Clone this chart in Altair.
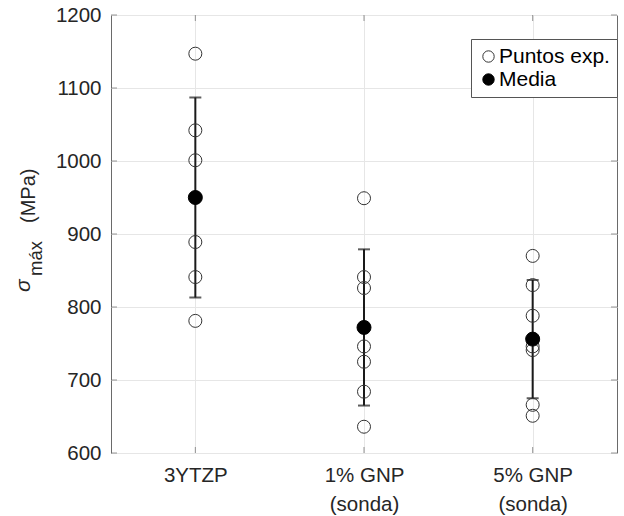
import altair as alt
import pandas as pd

categories = ["3YTZP", "1% GNP|(sonda)", "5% GNP|(sonda)"]
pts_3ytzp = [1147, 1042, 1001, 889, 841, 781]
pts_1gnp = [949, 841, 826, 746, 725, 684, 636]
pts_5gnp = [870, 830, 788, 746, 741, 666, 651]
means = [950, 772, 756]
stds = [137, 107, 81]
y_ticks = [600, 700, 800, 900, 1000, 1100, 1200]
legend_labels = ["Puntos exp.", "Media"]

FONT = "Liberation Sans"
TXT = "#262626"
FS = 20.5
AX = "#6a6a6a"

rows = []
for cat, vals in zip(categories, [pts_3ytzp, pts_1gnp, pts_5gnp]):
    for v in vals:
        rows.append({"cat": cat, "value": v, "tipo": legend_labels[0]})
pts_df = pd.DataFrame(rows)

mean_df = pd.DataFrame({
    "cat": categories,
    "value": means,
    "lo": [m - s for m, s in zip(means, stds)],
    "hi": [m + s for m, s in zip(means, stds)],
    "tipo": [legend_labels[1]] * 3,
})
ytick_df = pd.DataFrame({"value": y_ticks})
xtick_df = pd.DataFrame({"cat": categories})

x_enc = alt.X(
    "cat:N",
    sort=categories,
    scale=alt.Scale(type="point", padding=0.5, domain=categories),
    axis=alt.Axis(
        title=None,
        labelExpr="split(datum.label, '|')",
        labelFont=FONT,
        labelFontSize=FS,
        labelColor=TXT,
        labelPadding=12,
        labelLineHeight=29,
        labelAngle=0,
        ticks=False,
        domain=False,
        grid=True,
        gridColor="#e6e6e6",
    ),
)
y_scale = alt.Scale(domain=[600, 1200], nice=False, zero=False)
y_axis = alt.Axis(
    title=None,
    values=y_ticks,
    format="d",
    labelFont=FONT,
    labelFontSize=FS,
    labelColor=TXT,
    labelPadding=10,
    ticks=False,
    domain=False,
    grid=True,
    gridColor="#e6e6e6",
)

fill_scale = alt.Scale(domain=legend_labels, range=["transparent", "black"])
stroke_scale = alt.Scale(domain=legend_labels, range=["#333333", "black"])
legend = alt.Legend(
    title=None,
    orient="none",
    legendX=360,
    legendY=24,
    labelFont=FONT,
    labelFontSize=21,
    labelColor="black",
    labelOffset=0,
    symbolSize=130,
    symbolType="circle",
    symbolStrokeWidth=1,
    symbolStrokeColor="#333333",
    strokeColor="#555555",
    fillColor="white",
    padding=7,
    rowPadding=1,
    cornerRadius=0,
)

base_pts = alt.Chart(pts_df)
base_mean = alt.Chart(mean_df)

# inward axis ticks (box style)
yt = alt.Chart(ytick_df)
ticks_left = yt.mark_tick(color=AX, size=6, thickness=1, orient="horizontal").encode(
    x=alt.value(3), y=alt.Y("value:Q", scale=y_scale, axis=y_axis)
)
ticks_right = yt.mark_tick(color=AX, size=6, thickness=1, orient="horizontal").encode(
    x=alt.value(503), y=alt.Y("value:Q", scale=y_scale, axis=y_axis)
)
xt = alt.Chart(xtick_df)
ticks_bottom = xt.mark_tick(color=AX, size=6, thickness=1, orient="vertical").encode(
    x=x_enc, y=alt.value(435)
)
ticks_top = xt.mark_tick(color=AX, size=6, thickness=1, orient="vertical").encode(
    x=x_enc, y=alt.value(3)
)

err = base_mean.mark_rule(color="#1a1a1a", strokeWidth=2).encode(
    x=x_enc, y=alt.Y("lo:Q", scale=y_scale, axis=y_axis), y2="hi:Q"
)
cap_lo = base_mean.mark_tick(color="#1a1a1a", size=12, thickness=2, orient="horizontal").encode(
    x=x_enc, y=alt.Y("lo:Q", scale=y_scale, axis=y_axis)
)
cap_hi = base_mean.mark_tick(color="#1a1a1a", size=12, thickness=2, orient="horizontal").encode(
    x=x_enc, y=alt.Y("hi:Q", scale=y_scale, axis=y_axis)
)
points = base_pts.mark_point(shape="circle", filled=True, size=169, strokeWidth=1, opacity=1).encode(
    x=x_enc,
    y=alt.Y("value:Q", scale=y_scale, axis=y_axis),
    fill=alt.Fill("tipo:N", scale=fill_scale, legend=legend),
    stroke=alt.Stroke("tipo:N", scale=stroke_scale, legend=None),
)
mean_pts = base_mean.mark_point(shape="circle", filled=True, size=196, strokeWidth=1, opacity=1).encode(
    x=x_enc,
    y=alt.Y("value:Q", scale=y_scale, axis=y_axis),
    fill=alt.Fill("tipo:N", scale=fill_scale, legend=legend),
    stroke=alt.Stroke("tipo:N", scale=stroke_scale, legend=None),
)

# y-axis title: sigma with subscript "máx" and "(MPa)"
title_df = pd.DataFrame({"t": ["σ"]})
t_sigma = alt.Chart(title_df).mark_text(
    text="σ", font=FONT, fontSize=21, fontStyle="italic", angle=270,
    align="left", baseline="alphabetic", color=TXT,
).encode(x=alt.value(-81), y=alt.value(277))
t_sub = alt.Chart(title_df).mark_text(
    text="máx", font=FONT, fontSize=18.5, angle=270,
    align="left", baseline="alphabetic", color=TXT,
).encode(x=alt.value(-69), y=alt.value(261))
t_unit = alt.Chart(title_df).mark_text(
    text="(MPa)", font=FONT, fontSize=20, angle=270,
    align="left", baseline="alphabetic", color=TXT,
).encode(x=alt.value(-76), y=alt.value(208))

chart = alt.layer(
    ticks_left, ticks_right, ticks_bottom, ticks_top,
    err, cap_lo, cap_hi, points, mean_pts, t_sigma, t_sub, t_unit
).properties(
    width=506,
    height=438,
    autosize=alt.AutoSizeParams(type="none"),
    padding={"left": 111, "top": 15, "right": 7, "bottom": 63},
    background="white",
).configure_view(stroke=AX, strokeWidth=1)

chart.save("out.html", embed_options={"renderer": "svg", "actions": False})
